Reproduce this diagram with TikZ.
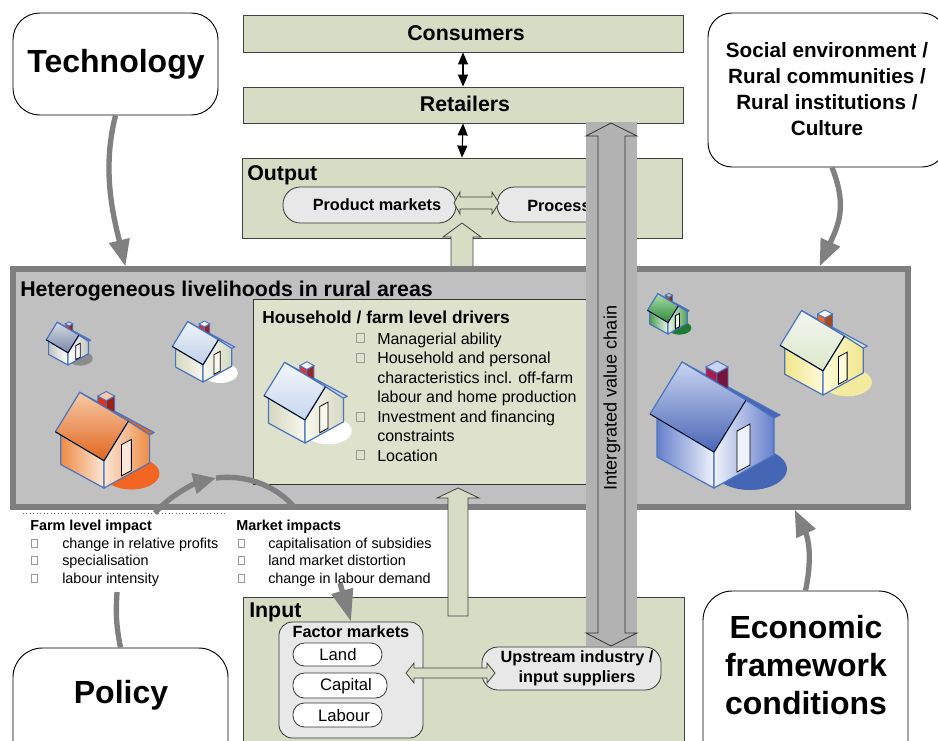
\documentclass[tikz,border=0pt]{standalone}
\usepackage{fontspec}
\setmainfont{Liberation Sans}
\usetikzlibrary{arrows.meta,calc,fit}
\definecolor{sage}{HTML}{D7DDC5}
\definecolor{sagel}{HTML}{DEE1CC}
\definecolor{boxgray}{HTML}{C0C0C0}
\definecolor{bordgray}{HTML}{7F7F7F}
\definecolor{chaingray}{HTML}{B2B2B2}
\definecolor{nodegray}{HTML}{E8E8E8}
\definecolor{arrgray}{HTML}{808080}
\definecolor{hblue}{HTML}{4A74C0}
% house colours: roof dark, roof light, wall light, wall dark, shadow, chimney
\definecolor{hAr}{HTML}{7A88A6}\definecolor{hAl}{HTML}{D4DAE6}\definecolor{hAw}{HTML}{FFFFFF}\definecolor{hAd}{HTML}{C4C4C0}\definecolor{hAs}{HTML}{8C8C8C}\definecolor{hAc}{HTML}{D23A2A}
\definecolor{hBr}{HTML}{BFD0E8}\definecolor{hBl}{HTML}{EEF3FA}\definecolor{hBw}{HTML}{F8F8F0}\definecolor{hBd}{HTML}{D4D8BE}\definecolor{hBs}{HTML}{FFFFFF}\definecolor{hBc}{HTML}{D83030}
\definecolor{hCr}{HTML}{E2671E}\definecolor{hCl}{HTML}{F6C9A6}\definecolor{hCw}{HTML}{FCE6D6}\definecolor{hCd}{HTML}{EE8C44}\definecolor{hCs}{HTML}{F26522}\definecolor{hCc}{HTML}{E0301C}
\definecolor{hDr}{HTML}{C6D6EE}\definecolor{hDl}{HTML}{F2F6FB}\definecolor{hDw}{HTML}{F8F8EE}\definecolor{hDd}{HTML}{D6D8C0}\definecolor{hDs}{HTML}{FFFFFF}\definecolor{hDc}{HTML}{E03434}
\definecolor{hEr}{HTML}{2F8B3A}\definecolor{hEl}{HTML}{A9DBA9}\definecolor{hEw}{HTML}{EAF5EA}\definecolor{hEd}{HTML}{4FA150}\definecolor{hEs}{HTML}{1F7A32}\definecolor{hEc}{HTML}{C0402A}
\definecolor{hFr}{HTML}{DCE8C8}\definecolor{hFl}{HTML}{F2F6F2}\definecolor{hFw}{HTML}{FDFBDA}\definecolor{hFd}{HTML}{F0E68A}\definecolor{hFs}{HTML}{F3EB9E}\definecolor{hFc}{HTML}{EE6A24}
\definecolor{hGr}{HTML}{4A66B6}\definecolor{hGl}{HTML}{C8D4F0}\definecolor{hGw}{HTML}{EEF2FA}\definecolor{hGd}{HTML}{6680CC}\definecolor{hGs}{HTML}{4466B4}\definecolor{hGc}{HTML}{A81C52}

\newcommand\rhouse[9]{%
\begin{scope}[shift={(#1,#2)},scale=#3]
\fill[#8] (36,-19) ellipse [x radius=37, y radius=21];
\shadedraw[left color=#7,right color=#6,draw=hblue,line width=0.9pt,line join=round] (-57,-70) -- (-57,-31) -- (0,0) -- (0,-36) -- cycle;
\shadedraw[left color=#6,right color=#7,draw=hblue,line width=0.9pt,line join=round] (0,0) -- (0,-36) -- (32,-88) -- (60,-72) -- (60,-33) -- cycle;
\filldraw[fill=#6,draw=black,line width=0.6pt] (23,-16) -- (23,-57) -- (36,-64) -- (36,-23) -- cycle;
\filldraw[fill=#4,draw=hblue,line width=0.9pt,line join=round] (-32,-126) -- (66,-73) -- (60,-70) -- (32,-88) -- cycle;
\filldraw[fill=#9,draw=hblue,line width=0.7pt] (-8,-121) -- (3,-115) -- (3,-96) -- (-8,-102) -- cycle;
\filldraw[fill=#9!70!black,draw=hblue,line width=0.7pt] (3,-115) -- (14,-121) -- (14,-96) -- (3,-96) -- cycle;
\filldraw[fill=#5,draw=hblue,line width=0.7pt] (-8,-121) -- (3,-127) -- (14,-121) -- (3,-115) -- cycle;
\shadedraw[top color=#5,bottom color=#4,draw=hblue,line width=0.9pt,line join=round] (-64,-74) -- (-32,-126) -- (32,-88) -- (0,-36) -- cycle;
\draw[black,line width=0.6pt] (-64,-74) -- (0,-36) -- (32,-88);
\end{scope}}

\tikzset{
 sagebox/.style={draw=black!75,line width=0.6pt,fill=sage,inner sep=0pt},
 roundbox/.style={draw=black,line width=0.7pt,fill=white,rounded corners=18pt,inner sep=0pt},
 pill/.style={draw=black!80,line width=0.6pt,fill=nodegray,inner sep=0pt},
 blockarrow/.style={draw=black!75,line width=0.6pt,fill=sage,line join=miter},
 thinarr/.style={line width=0.8pt,{Triangle[length=9pt,width=7.5pt]}-{Triangle[length=9pt,width=7.5pt]}},
 garr/.style={draw=arrgray,line width=4pt,-{Triangle[length=20pt,width=15pt]}},
 gline/.style={draw=arrgray,line width=4pt},
 bul/.style={draw=black!40,line width=0.4pt},
 tbig/.style={font=\fontsize{24}{28.5}\selectfont\bfseries},
 thead/.style={font=\fontsize{16}{19}\selectfont\bfseries},
 tsoc/.style={font=\fontsize{15.5}{19.5}\selectfont\bfseries,align=center},
 tmid/.style={font=\fontsize{12.2}{15}\selectfont\bfseries},
 tbody/.style={font=\fontsize{12}{14.5}\selectfont},
 tsmall/.style={font=\fontsize{10.8}{13}\selectfont},
 tsmallb/.style={font=\fontsize{10.8}{13}\selectfont\bfseries},
 txt/.style={inner sep=0pt,anchor=base west},
}

\begin{document}
\begin{tikzpicture}[x=0.75pt,y=-0.75pt]
\useasboundingbox (0,0) rectangle (938,740);
\clip (0,0) rectangle (938,740);

% corner boxes (top)
\node[roundbox,rounded corners=20pt,fit={(13,13)(218,115)}] (tech) {};
\node[tbig,inner sep=0pt] (techt) at (116,64) {Technology};
\node[roundbox,fit={(708,13)(946,167)}] (soc) {};
\node[tsoc,inner sep=0pt] (soct) at (827,89) {Social environment /\\Rural communities /\\Rural institutions /\\Culture};

% value chain top
\node[sagebox,fit={(243,15)(683,52)}] (cons) {};
\node[thead,inner sep=0pt] (const) at (466,33) {Consumers};
\node[sagebox,fit={(243,87)(683,123)}] (ret) {};
\node[thead,inner sep=0pt] (rett) at (465,104) {Retailers};
\node[sagebox,fit={(242,158)(682,238)}] (out) {};
\node[thead,txt] (outt) at (247,180) {Output};
\draw[thinarr] (cons.south) -- (ret.north);
\draw[thinarr] (ret.south) -- (out.north);

\node[pill,rounded corners=13pt,fit={(283,187)(456,223)}] (pm) {};
\node[tmid,inner sep=0pt] (pmt) at (377,205) {Product markets};
\node[pill,rounded corners=13pt,fit={(497,187)(628,222)}] (proc) {};
\node[tmid,txt] (proct) at (527,211) {Process};
\draw[blockarrow] (454,203) -- (460,192) -- (460,197) -- (492,197) -- (492,192) -- (499,203) -- (492,214) -- (492,209) -- (460,209) -- (460,214) -- cycle;

% up arrow into output
\draw[blockarrow] (451,270) -- (451,237) -- (443,237) -- (462,223) -- (481,237) -- (473,237) -- (473,270) -- cycle;

% heterogeneous livelihoods
\node[fit={(13,269)(908,507)},inner sep=0pt,draw=bordgray,fill=boxgray,line width=3.8pt] (het) {};
\node[thead,txt] (hett) at (20,296) {Heterogeneous livelihoods in rural areas};

\rhouse{68}{365}{0.34}{hAr}{hAl}{hAw}{hAd}{hAs}{hAc}
\rhouse{203}{382}{0.48}{hBr}{hBl}{hBw}{hBd}{hBs}{hBc}
\rhouse{104}{488}{0.76}{hCr}{hCl}{hCw}{hCd}{hCs}{hCc}

% household box
\node[fit={(253,299)(600,484)},inner sep=0pt,draw=black!80,line width=0.6pt,fill=sagel] (hh) {};
\node[font=\fontsize{13}{15}\selectfont\bfseries,txt] (hht) at (262,323) {Household / farm level drivers};
\foreach \yy in {338,358,417,455} {\draw[bul] (356,\yy-4.5) rectangle (364,\yy+4.5);}
\node[tbody,txt] (hb1) at (377,344) {Managerial ability};
\node[tbody,txt] (hb2) at (377,363.5) {Household and personal};
\node[tbody,txt] (hb3) at (377,383) {characteristics incl. off-farm};
\node[tbody,txt] (hb4) at (377,402.5) {labour and home production};
\node[tbody,txt] (hb5) at (377,422.5) {Investment and financing};
\node[tbody,txt] (hb6) at (377,441) {constraints};
\node[tbody,txt] (hb7) at (377,461) {Location};
\rhouse{305}{443}{0.64}{hDr}{hDl}{hDw}{hDd}{hDs}{hDc}

% right houses
\rhouse{668}{334}{0.32}{hEr}{hEl}{hEw}{hEd}{hEs}{hEc}
\rhouse{823}{395}{0.67}{hFr}{hFl}{hFw}{hFd}{hFs}{hFc}
\rhouse{714}{488}{1}{hGr}{hGl}{hGw}{hGd}{hGs}{hGc}

% input
\node[sagebox,fit={(243,597)(684,800)}] (inp) {};
\node[thead,txt] (inpt) at (249,617.5) {Input};
\node[pill,rounded corners=10pt,fit={(279,622)(423,738)}] (fm) {};
\node[tmid,inner sep=0pt] (fmt) at (351,632) {Factor markets};
\node[pill,fill=white,rounded corners=8.5pt,fit={(293,643)(382,666)}] (land) {};
\node[pill,fill=white,rounded corners=8.5pt,fit={(293,673)(387,698)}] (cap) {};
\node[pill,fill=white,rounded corners=8.5pt,fit={(293,703)(382,727)}] (lab) {};
\node[font=\fontsize{12.5}{15}\selectfont,inner sep=0pt] (landt) at (338,655) {Land};
\node[font=\fontsize{12.5}{15}\selectfont,inner sep=0pt] (capt) at (346,686) {Capital};
\node[font=\fontsize{12.5}{15}\selectfont,inner sep=0pt] (labt) at (344,716) {Labour};
\node[pill,rounded corners=12pt,fit={(482,647)(661,690)}] (up) {};
\node[tmid,align=center,inner sep=0pt] (upt) at (577,668) {Upstream industry /\\input suppliers};
\draw[blockarrow] (406,673) -- (414,663) -- (414,668) -- (487,668) -- (487,663) -- (495,673) -- (487,683) -- (487,678) -- (414,678) -- (414,683) -- cycle;

% up arrow into livelihoods
\draw[blockarrow] (448,616) -- (448,498) -- (437,498) -- (458,488) -- (479,498) -- (468,498) -- (468,616) -- cycle;

% integrated value chain
\node[fit={(586,122)(637,646)},inner sep=0pt,fill=chaingray] (chain) {};
\draw[draw=black!80,line width=0.6pt] (611,123) -- (637,136) -- (625,136) -- (625,633) -- (637,633) -- (611,646) -- (586,633) -- (598,633) -- (598,136) -- (586,136) -- cycle;
\node[rotate=90,font=\fontsize{13.6}{16}\selectfont,inner sep=0pt] (chaint) at (612,398) {Intergrated value chain};

% impacts
\draw[dotted,black!60,line width=0.6pt] (23,513) -- (227,513);
\node[tsmallb,txt] (fli) at (30,530) {Farm level impact};
\node[tsmall,txt] (fl1) at (62,548) {change in relative profits};
\node[tsmall,txt] (fl2) at (62,565) {specialisation};
\node[tsmall,txt] (fl3) at (62,583) {labour intensity};
\node[tsmallb,txt] (mi) at (236,530) {Market impacts};
\node[tsmall,txt] (mi1) at (268,548) {capitalisation of subsidies};
\node[tsmall,txt] (mi2) at (268,565) {land market distortion};
\node[tsmall,txt] (mi3) at (268,583) {change in labour demand};
\foreach \yy in {543,560,578} {\draw[bul] (31,\yy-4) rectangle (37,\yy+4); \draw[bul] (238,\yy-4) rectangle (244,\yy+4);}

% corner boxes (bottom)
\node[roundbox,rounded corners=22pt,fit={(13,648)(228,800)}] (pol) {};
\node[tbig,inner sep=0pt] (polt) at (121,695) {Policy};
\node[roundbox,rounded corners=22pt,fit={(703,591)(908,800)}] (econ) {};
\node[tbig,align=center,inner sep=0pt] (econt) at (806,665) {Economic\\framework\\conditions};

% grey influence arrows
\draw[garr] (tech.south) .. controls +(-14,55) and +(-12,-50) .. ($(het.north west)+(115,0)$);
\draw[garr] ($(soc.south)+(5,0)$) .. controls +(16,40) and +(18,-40) .. ($(het.north east)+(-91,0)$);
\draw[garr] (econ.north) .. controls +(8,-38) and +(12,25) .. ($(het.south east)+(-116,0)$);
\coordinate (polend) at (117,592);
\draw[gline] (pol.north) .. controls +(-5,-25) and +(-1,18) .. (polend);
\coordinate (arcA) at (155,513);
\coordinate (arcB) at (216,478);
\coordinate (arcC) at (294,507);
\draw[garr,-{Triangle[length=17pt,width=15pt]}] (arcA) .. controls +(15,-18) and +(-20,5) .. (arcB);
\draw[gline] (arcB) .. controls +(35,-4) and +(-15,-18) .. (arcC);
\coordinate (mk) at (340,583);
\draw[garr,-{Triangle[length=24pt,width=16pt]}] (mk) -- (fm.north);
\end{tikzpicture}
\end{document}
